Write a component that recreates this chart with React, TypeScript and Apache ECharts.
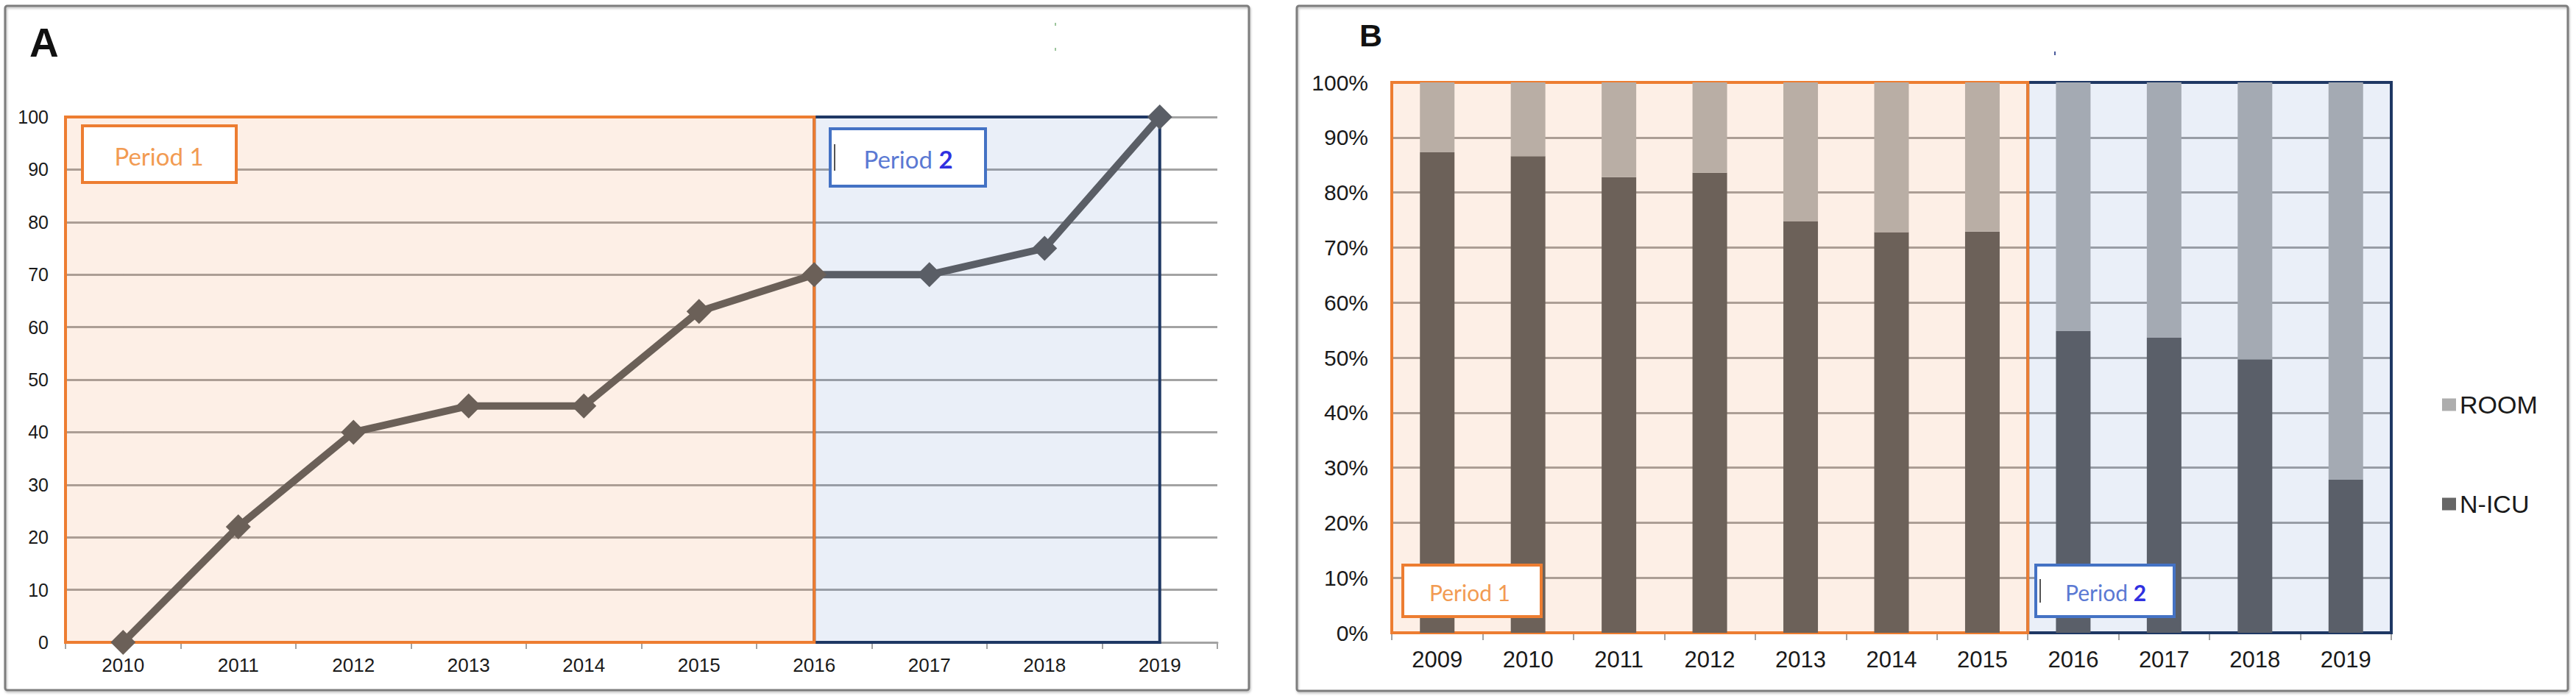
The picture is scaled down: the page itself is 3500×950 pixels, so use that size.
import React, { useEffect, useRef } from "react";
import * as echarts from "echarts";

// ---- Panel A data ----
const yearsA = ["2010", "2011", "2012", "2013", "2014", "2015", "2016", "2017", "2018", "2019"];
const casesA = [0, 22, 40, 45, 45, 63, 70, 70, 75, 100];
const periodSplitA = "2016"; // period 1 ends / period 2 starts at this year
const periodEndA = "2019";

// ---- Panel B data ----
const yearsB = ["2009", "2010", "2011", "2012", "2013", "2014", "2015", "2016", "2017", "2018", "2019"];
const nicuB = [87.3, 86.6, 82.8, 83.6, 74.8, 72.8, 72.9, 54.8, 53.6, 49.7, 27.8];
const roomB = [12.7, 13.4, 17.2, 16.4, 25.2, 27.2, 27.1, 45.2, 46.4, 50.3, 72.2];
const lastYearPeriod1B = "2015";

const seriesNamesB = ["ROOM", "N-ICU"];

const ORANGE = "#ed7d31";
const NAVY = "#1f3864";
const BLUE = "#4472c4";
const GRID_GRAY = "#a3a3a3";
const AXIS_FONT = "Liberation Sans";

export default function App() {
  const ref = useRef<HTMLDivElement>(null);

  useEffect(() => {
    document.body.style.margin = "0";
    if (!ref.current) return;
    const chart = echarts.init(ref.current, undefined, { renderer: "svg" });

    const splitA = yearsA.indexOf(periodSplitA);
    const endA = yearsA.indexOf(periodEndA);
    const splitB = yearsB.indexOf(lastYearPeriod1B) + 0.5;
    const endB = yearsB.length - 0.5;
    const p1B = yearsB.indexOf(lastYearPeriod1B);

    const orangeFill = "rgba(237,125,49,0.12)";
    const blueFill = "rgba(68,114,196,0.115)";

    const lineP1 = "#6b6058";
    const lineP2 = "#5a5e66";
    const splitFrac = splitA / (yearsA.length - 1);

    const periodBox = (
      x: number,
      y: number,
      w: number,
      h: number,
      stroke: string,
      textStyle: any,
      cursor: boolean
    ) => {
      const children: any[] = [
        {
          type: "rect",
          z: 100,
          shape: { x, y, width: w, height: h },
          style: { fill: "#ffffff", stroke, lineWidth: 4 },
        },
        { type: "text", z: 101, style: textStyle },
      ];
      if (cursor) {
        children.push({
          type: "line",
          z: 101,
          shape: { x1: x + 6, y1: y + h * 0.27, x2: x + 6, y2: y + h * 0.73 },
          style: { stroke: "#555", lineWidth: 2 },
        });
      }
      return { type: "group", z: 100, children };
    };

    const p1Text = (cx: number, cy: number, size: number) => ({
      x: cx,
      y: cy,
      text: "Period 1",
      align: "center",
      verticalAlign: "middle",
      fill: "#f29b52",
      font: `${size}px Lato`,
    });
    const p2Text = (cx: number, cy: number, size: number) => ({
      x: cx,
      y: cy,
      text: "{a|Period }{b|2}",
      align: "center",
      verticalAlign: "middle",
      font: `${size}px Lato`,
      rich: {
        a: { fill: "#5b79d3", fontSize: size, fontFamily: "Lato" },
        b: { fill: "#3030e0", fontSize: size, fontFamily: "Lato", fontWeight: "bold" },
      },
    });

    const option: any = {
      animation: false,
      backgroundColor: "#ffffff",
      grid: [
        { left: 89, top: 159, width: 1565, height: 714 },
        { left: 1891, top: 112, width: 1358, height: 748 },
      ],
      xAxis: [
        {
          gridIndex: 0,
          type: "category",
          data: yearsA,
          boundaryGap: true,
          axisLine: { lineStyle: { color: GRID_GRAY, width: 3 } },
          axisTick: { show: true, length: 9, lineStyle: { color: GRID_GRAY, width: 2 } },
          axisLabel: { fontSize: 26, color: "#1a1a1a", margin: 18, fontFamily: AXIS_FONT },
        },
        { gridIndex: 0, type: "value", min: -0.5, max: yearsA.length - 0.5, show: false },
        {
          gridIndex: 1,
          type: "category",
          data: yearsB,
          boundaryGap: true,
          axisLine: { lineStyle: { color: GRID_GRAY, width: 3 } },
          axisTick: { show: true, length: 10, lineStyle: { color: GRID_GRAY, width: 2 } },
          axisLabel: { fontSize: 31, color: "#1a1a1a", margin: 21, fontFamily: AXIS_FONT },
        },
        { gridIndex: 1, type: "value", min: -0.5, max: yearsB.length - 0.5, show: false },
      ],
      yAxis: [
        {
          gridIndex: 0,
          type: "value",
          min: 0,
          max: 100,
          interval: 10,
          axisLine: { show: false },
          axisTick: { show: true, length: 6, lineStyle: { color: GRID_GRAY, width: 2 } },
          splitLine: { lineStyle: { color: GRID_GRAY, width: 3 } },
          axisLabel: { fontSize: 25, color: "#1a1a1a", margin: 23, fontFamily: AXIS_FONT },
        },
        {
          gridIndex: 1,
          type: "value",
          min: 0,
          max: 100,
          interval: 10,
          axisLine: { show: false },
          axisTick: { show: true, length: 7, lineStyle: { color: GRID_GRAY, width: 2 } },
          splitLine: { lineStyle: { color: GRID_GRAY, width: 3 } },
          axisLabel: {
            fontSize: 30,
            color: "#1a1a1a",
            margin: 32,
            fontFamily: AXIS_FONT,
            formatter: "{value}%",
          },
        },
      ],
      legend: {
        data: seriesNamesB,
        orient: "vertical",
        left: 3313,
        top: 528,
        itemWidth: 19,
        itemHeight: 17,
        itemGap: 101,
        icon: "rect",
        textStyle: { fontSize: 34, color: "#1a1a1a", fontFamily: AXIS_FONT },
      },
      series: [
        {
          type: "line",
          name: "cases",
          xAxisIndex: 0,
          yAxisIndex: 0,
          data: casesA.map((v, i) => ({
            value: v,
            itemStyle: { color: i <= splitA ? lineP1 : lineP2 },
          })),
          symbol: "diamond",
          symbolSize: 34,
          lineStyle: {
            width: 10,
            color: new echarts.graphic.LinearGradient(0, 0, 1, 0, [
              { offset: 0, color: lineP1 },
              { offset: splitFrac, color: lineP1 },
              { offset: splitFrac, color: lineP2 },
              { offset: 1, color: lineP2 },
            ]),
          },
          clip: false,
          z: 5,
        },
        {
          type: "line",
          name: "periodsA",
          xAxisIndex: 1,
          yAxisIndex: 0,
          data: [
            [-0.5, 0],
            [yearsA.length - 0.5, 0],
          ],
          symbol: "none",
          lineStyle: { opacity: 0 },
          silent: true,
          z: 1,
          markArea: {
            silent: true,
            data: [
              [
                { xAxis: splitA, yAxis: 0, itemStyle: { color: blueFill, borderColor: NAVY, borderWidth: 4 } },
                { xAxis: endA, yAxis: 100 },
              ],
              [
                { xAxis: -0.5, yAxis: 0, itemStyle: { color: orangeFill, borderColor: ORANGE, borderWidth: 4 } },
                { xAxis: splitA, yAxis: 100 },
              ],
            ],
          },
        },
        {
          type: "bar",
          name: "N-ICU",
          xAxisIndex: 2,
          yAxisIndex: 1,
          stack: "share",
          barWidth: 47,
          itemStyle: { color: "#666666" },
          data: nicuB.map((v, i) => ({
            value: v,
            itemStyle: { color: i <= p1B ? "#6c6159" : "#5a5f69" },
          })),
          z: 3,
        },
        {
          type: "bar",
          name: "ROOM",
          xAxisIndex: 2,
          yAxisIndex: 1,
          stack: "share",
          barWidth: 47,
          itemStyle: { color: "#adadad" },
          data: roomB.map((v, i) => ({
            value: v,
            itemStyle: { color: i <= p1B ? "#b9aea5" : "#a4aab3" },
          })),
          z: 3,
        },
        {
          type: "line",
          name: "periodsB",
          xAxisIndex: 3,
          yAxisIndex: 1,
          data: [
            [-0.5, 0],
            [yearsB.length - 0.5, 0],
          ],
          symbol: "none",
          lineStyle: { opacity: 0 },
          silent: true,
          z: 1,
          markArea: {
            silent: true,
            data: [
              [
                { xAxis: splitB, yAxis: 0, itemStyle: { color: blueFill, borderColor: NAVY, borderWidth: 4 } },
                { xAxis: endB, yAxis: 100 },
              ],
              [
                { xAxis: -0.5, yAxis: 0, itemStyle: { color: orangeFill, borderColor: ORANGE, borderWidth: 4 } },
                { xAxis: splitB, yAxis: 100 },
              ],
            ],
          },
        },
      ],
      graphic: [
        {
          type: "rect",
          z: 90,
          shape: { x: 7, y: 8, width: 1690, height: 930, r: 3 },
          style: {
            fill: "none",
            stroke: "#7d7d7d",
            lineWidth: 3,
            shadowBlur: 3,
            shadowColor: "rgba(0,0,0,0.25)",
            shadowOffsetX: 1,
            shadowOffsetY: 2,
          },
        },
        {
          type: "rect",
          z: 90,
          shape: { x: 1762, y: 8, width: 1727, height: 931, r: 3 },
          style: {
            fill: "none",
            stroke: "#7d7d7d",
            lineWidth: 3,
            shadowBlur: 3,
            shadowColor: "rgba(0,0,0,0.25)",
            shadowOffsetX: 1,
            shadowOffsetY: 2,
          },
        },
        {
          type: "text",
          z: 100,
          style: {
            x: 40,
            y: 58,
            text: "A",
            verticalAlign: "middle",
            fill: "#111",
            font: `bold 55px ${AXIS_FONT}`,
          },
        },
        {
          type: "text",
          z: 100,
          style: {
            x: 1847,
            y: 48,
            text: "B",
            verticalAlign: "middle",
            fill: "#111",
            font: `bold 43px ${AXIS_FONT}`,
          },
        },
        periodBox(112, 171, 209, 77, ORANGE, p1Text(216, 212, 33), false),
        periodBox(1128, 175, 211, 78, BLUE, p2Text(1234, 216, 33), true),
        periodBox(1906, 768, 188, 70, ORANGE, p1Text(1997, 805, 30), false),
        periodBox(2766, 768, 188, 70, BLUE, p2Text(2861, 805, 30), true),
        {
          type: "rect",
          z: 100,
          shape: { x: 1433, y: 31, width: 2, height: 4 },
          style: { fill: "#9cc59c" },
        },
        {
          type: "rect",
          z: 100,
          shape: { x: 1433, y: 65, width: 2, height: 4 },
          style: { fill: "#9cc59c" },
        },
        {
          type: "rect",
          z: 100,
          shape: { x: 2791, y: 70, width: 2, height: 5 },
          style: { fill: "#4a5a9a" },
        },
      ],
    };

    chart.setOption(option);
    return () => chart.dispose();
  }, []);

  return <div ref={ref} style={{ width: 3500, height: 950 }} />;
}
